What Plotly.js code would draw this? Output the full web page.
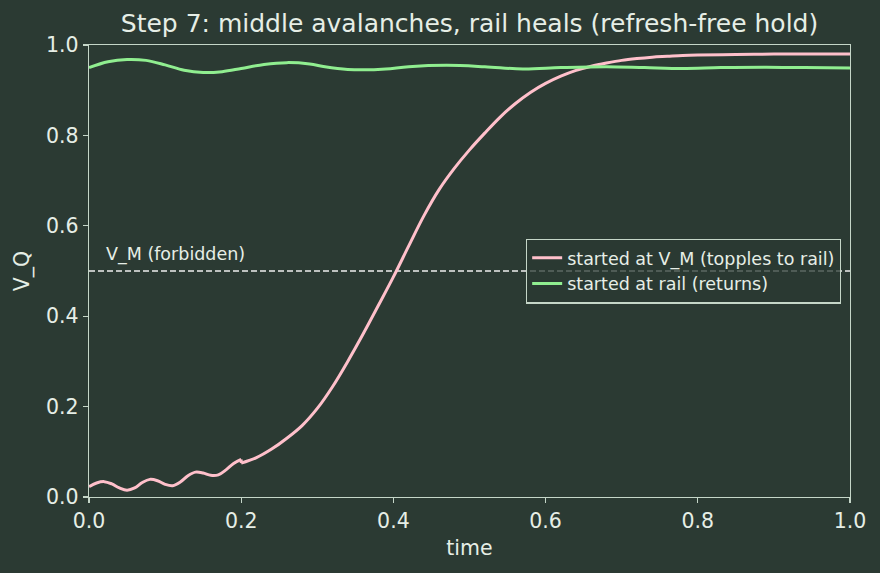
<!DOCTYPE html>
<html>
<head>
<meta charset="utf-8">
<script src="https://cdn.plot.ly/plotly-3.0.1.min.js"></script>
<style>html,body{margin:0;padding:0;background:#2b3a33;}#chart{width:880px;height:573px;}</style>
</head>
<body>
<div id="chart"></div>
<script>
// Pink: started at V_M (topples to rail) — early wobble phase, then avalanche
const tPinkEarly = [0, 0.01, 0.02, 0.03, 0.04, 0.05, 0.06, 0.07, 0.08, 0.09, 0.10, 0.11, 0.12, 0.13, 0.14, 0.15, 0.16, 0.17, 0.18, 0.19, 0.20];
const vPinkEarly = [0.023, 0.031, 0.034, 0.029, 0.020, 0.015, 0.020, 0.032, 0.039, 0.036, 0.028, 0.025, 0.033, 0.047, 0.055, 0.053, 0.048, 0.049, 0.060, 0.074, 0.083];
const tPinkLate = [0.20, 0.22, 0.24, 0.26, 0.28, 0.30, 0.32, 0.34, 0.36, 0.38, 0.40, 0.42, 0.44, 0.46, 0.48, 0.50, 0.52, 0.54, 0.56, 0.58, 0.60,
  0.62, 0.64, 0.66, 0.68, 0.70, 0.72, 0.74, 0.76, 0.78, 0.80, 0.85, 0.90, 0.95, 1.00];
const vPinkLate = [0.075, 0.087, 0.106, 0.130, 0.158, 0.196, 0.244, 0.300, 0.360, 0.423, 0.487, 0.555, 0.622, 0.680, 0.727, 0.768, 0.805, 0.840, 0.870, 0.895, 0.915,
  0.931, 0.944, 0.953, 0.960, 0.966, 0.970, 0.973, 0.975, 0.977, 0.978, 0.979, 0.980, 0.980, 0.980];
// Green: started at rail (returns)
const tGreen = [0, 0.025, 0.05, 0.075, 0.10, 0.125, 0.15, 0.175, 0.20, 0.23, 0.26, 0.29, 0.31, 0.34, 0.36, 0.39, 0.42, 0.47, 0.52, 0.57, 0.62, 0.68, 0.73, 0.78, 0.83, 0.89, 0.94, 1.00];
const vGreen = [0.950, 0.963, 0.968, 0.966, 0.956, 0.944, 0.939, 0.941, 0.948, 0.957, 0.961, 0.958, 0.952, 0.946, 0.945, 0.947, 0.952, 0.955, 0.952, 0.947, 0.950, 0.952, 0.950, 0.948, 0.950, 0.951, 0.950, 0.949];
// Forbidden middle level
const vM = 0.5;
const vmX = [0, 1];
const xTicks = [0, 0.2, 0.4, 0.6, 0.8, 1.0];
const yTicks = [0, 0.2, 0.4, 0.6, 0.8, 1.0];
const tickText = ['0.0', '0.2', '0.4', '0.6', '0.8', '1.0'];

const BG = '#2b3a33';
const AX = '#c5d6c8';
const TXT = '#e6eee6';
const PINK = '#ffc0cb';
const GREEN = '#90ee90';
const FONT = 'DejaVu Sans, sans-serif';

// jump connector at end of early phase
const jumpX = [tPinkEarly[tPinkEarly.length - 1], tPinkLate[0]];
const jumpY = [vPinkEarly[vPinkEarly.length - 1], vPinkLate[0]];

const traces = [
  {x: vmX, y: vmX.map(() => vM), mode: 'lines', line: {color: '#eeeeee', width: 1.5, dash: '6px,3px'}, showlegend: false, hoverinfo: 'skip'},
  {x: tPinkLate, y: vPinkLate, mode: 'lines', name: 'started at V_M (topples to rail)', legendgroup: 'p', line: {color: PINK, width: 3, shape: 'spline', smoothing: 1}},
  {x: tPinkEarly, y: vPinkEarly, mode: 'lines', legendgroup: 'p', showlegend: false, line: {color: PINK, width: 3, shape: 'spline', smoothing: 1}},
  {x: jumpX, y: jumpY, mode: 'lines', legendgroup: 'p', showlegend: false, line: {color: PINK, width: 3}},
  {x: tGreen, y: vGreen, mode: 'lines', name: 'started at rail (returns)', line: {color: GREEN, width: 3, shape: 'spline', smoothing: 1}}
];

const axisCommon = {
  showgrid: false, zeroline: false, showline: true, mirror: true, linecolor: AX, linewidth: 1.3,
  ticks: 'outside', ticklen: 5, tickwidth: 1.3, tickcolor: AX,
  tickfont: {family: FONT, size: 20.5, color: TXT}
};

const layout = {
  width: 880, height: 573,
  paper_bgcolor: BG, plot_bgcolor: BG,
  margin: {l: 89, r: 30, t: 45, b: 76},
  font: {family: FONT, color: TXT},
  title: {text: 'Step 7: middle avalanches, rail heals (refresh-free hold)', font: {family: FONT, size: 25, color: TXT},
          x: 0.5, xref: 'paper', xanchor: 'center', y: 1 - 23/573, yref: 'container', yanchor: 'middle'},
  xaxis: Object.assign({}, axisCommon, {range: [0, 1], tickvals: xTicks, ticktext: tickText,
          title: {text: 'time', font: {family: FONT, size: 20.5, color: TXT}, standoff: 8}}),
  yaxis: Object.assign({}, axisCommon, {range: [0, 1], tickvals: yTicks, ticktext: tickText,
          title: {text: 'V_Q', font: {family: FONT, size: 20.5, color: TXT}, standoff: 10}}),
  legend: {x: 0.988, xanchor: 'right', y: 0.5, yanchor: 'middle', bgcolor: 'rgba(43,58,51,0.75)',
           bordercolor: AX, borderwidth: 1.3, font: {family: FONT, size: 17.5, color: TXT}, tracegroupgap: 0},
  annotations: [{x: 0.02, y: vM + 0.008, xref: 'x', yref: 'y', text: 'V_M (forbidden)', showarrow: false,
                 xanchor: 'left', yanchor: 'bottom', font: {family: FONT, size: 17.5, color: TXT}}]
};

Plotly.newPlot('chart', traces, layout, {displayModeBar: false, staticPlot: true});
</script>
</body>
</html>
